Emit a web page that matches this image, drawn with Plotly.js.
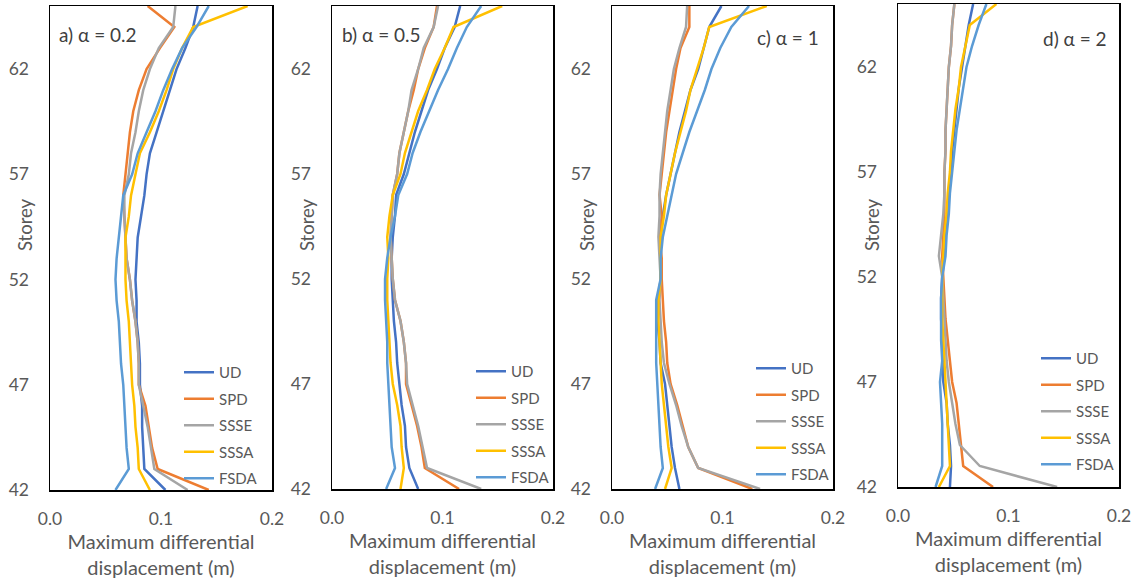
<!DOCTYPE html>
<html>
<head>
<meta charset="utf-8">
<script src="https://cdn.plot.ly/plotly-3.0.1.min.js"></script>
<style>html,body{margin:0;padding:0;background:#fff;}#chart{width:1136px;height:581px;}</style>
</head>
<body>
<div id="chart"></div>
<script>
// Storey levels (y values)
const storeys = [42,43,44,45,46,47,48,49,50,51,52,53,54,55,56,57,58,59,60,61,62,63,64,65];
const seriesNames = ["UD","SPD","SSSE","SSSA","FSDA"];
const panelLabels = ["a) α = 0.2","b) α = 0.5","c) α = 1","d) α = 2"];
const xTickVals = [0, 0.1, 0.2];
const yTickVals = [42, 47, 52, 57, 62];

// Panel a) alpha = 0.2
const a_UD   = [0.104,0.085,0.084,0.083,0.083,0.081,0.081,0.080,0.078,0.078,0.077,0.078,0.079,0.082,0.085,0.087,0.090,0.096,0.102,0.108,0.114,0.122,0.129,0.133];
const a_SPD  = [0.143,0.097,0.092,0.089,0.086,0.080,0.080,0.079,0.077,0.074,0.072,0.069,0.068,0.067,0.066,0.068,0.070,0.072,0.075,0.080,0.087,0.099,0.112,0.088];
const a_SSSE = [0.124,0.094,0.091,0.088,0.084,0.080,0.080,0.079,0.077,0.074,0.072,0.069,0.068,0.067,0.067,0.071,0.073,0.077,0.080,0.084,0.090,0.098,0.111,0.113];
const a_SSSA = [0.090,0.080,0.079,0.077,0.076,0.074,0.073,0.072,0.071,0.069,0.068,0.068,0.068,0.071,0.073,0.077,0.081,0.090,0.098,0.105,0.111,0.119,0.129,0.178];
const a_FSDA = [0.059,0.071,0.069,0.068,0.067,0.066,0.064,0.063,0.062,0.060,0.059,0.060,0.062,0.064,0.066,0.074,0.079,0.087,0.095,0.102,0.110,0.119,0.132,0.143];

// Panel b) alpha = 0.5
const b_UD   = [0.078,0.070,0.067,0.066,0.063,0.061,0.059,0.058,0.056,0.055,0.054,0.054,0.055,0.057,0.058,0.065,0.070,0.075,0.081,0.087,0.095,0.102,0.111,0.116];
const b_SPD  = [0.115,0.084,0.081,0.077,0.072,0.067,0.067,0.065,0.062,0.057,0.055,0.054,0.053,0.054,0.055,0.059,0.061,0.065,0.069,0.074,0.078,0.084,0.092,0.095];
const b_SSSE = [0.135,0.086,0.082,0.078,0.073,0.068,0.067,0.065,0.062,0.057,0.055,0.054,0.053,0.054,0.055,0.059,0.061,0.065,0.069,0.072,0.078,0.083,0.092,0.096];
const b_SSSA = [0.062,0.065,0.063,0.062,0.059,0.055,0.053,0.052,0.051,0.050,0.050,0.051,0.050,0.052,0.055,0.062,0.066,0.072,0.078,0.086,0.093,0.102,0.110,0.154];
const b_FSDA = [0.049,0.057,0.054,0.053,0.052,0.051,0.050,0.050,0.049,0.048,0.048,0.050,0.053,0.057,0.060,0.068,0.073,0.080,0.088,0.096,0.105,0.113,0.122,0.135];

// Panel c) alpha = 1
const c_UD   = [0.061,0.057,0.054,0.052,0.050,0.048,0.044,0.043,0.041,0.042,0.044,0.044,0.044,0.046,0.049,0.053,0.057,0.061,0.066,0.071,0.078,0.083,0.088,0.099];
const c_SPD  = [0.127,0.078,0.069,0.064,0.059,0.053,0.050,0.049,0.047,0.046,0.045,0.045,0.043,0.045,0.043,0.045,0.047,0.049,0.052,0.055,0.058,0.062,0.070,0.070];
const c_SSSE = [0.134,0.078,0.069,0.063,0.058,0.052,0.047,0.045,0.044,0.043,0.044,0.043,0.042,0.043,0.043,0.044,0.046,0.048,0.050,0.053,0.056,0.061,0.067,0.068];
const c_SSSA = [0.048,0.054,0.051,0.049,0.047,0.045,0.044,0.043,0.042,0.042,0.044,0.044,0.044,0.047,0.049,0.053,0.057,0.062,0.067,0.071,0.077,0.083,0.088,0.140];
const c_FSDA = [0.039,0.046,0.044,0.043,0.042,0.041,0.040,0.040,0.040,0.040,0.044,0.044,0.046,0.050,0.054,0.058,0.064,0.070,0.077,0.084,0.090,0.098,0.108,0.124];

// Panel d) alpha = 2
const d_UD   = [0.047,0.048,0.047,0.045,0.044,0.041,0.041,0.040,0.039,0.039,0.040,0.042,0.043,0.045,0.046,0.048,0.049,0.051,0.053,0.055,0.058,0.061,0.064,0.068];
const d_SPD  = [0.086,0.059,0.057,0.055,0.053,0.049,0.047,0.045,0.043,0.042,0.041,0.040,0.041,0.042,0.042,0.042,0.043,0.043,0.044,0.045,0.046,0.048,0.049,0.051];
const d_SSSE = [0.144,0.074,0.056,0.052,0.049,0.046,0.044,0.043,0.042,0.041,0.040,0.037,0.039,0.041,0.042,0.042,0.043,0.043,0.044,0.045,0.046,0.048,0.049,0.051];
const d_SSSA = [0.037,0.047,0.046,0.045,0.044,0.043,0.042,0.041,0.040,0.040,0.040,0.041,0.042,0.044,0.045,0.047,0.048,0.050,0.052,0.055,0.057,0.061,0.065,0.089];
const d_FSDA = [0.034,0.040,0.040,0.040,0.039,0.038,0.040,0.039,0.039,0.039,0.040,0.043,0.044,0.046,0.047,0.049,0.051,0.053,0.056,0.059,0.062,0.067,0.073,0.080];

const panelsData = [
  [a_UD,a_SPD,a_SSSE,a_SSSA,a_FSDA],
  [b_UD,b_SPD,b_SSSE,b_SSSA,b_FSDA],
  [c_UD,c_SPD,c_SSSE,c_SSSA,c_FSDA],
  [d_UD,d_SPD,d_SSSE,d_SSSA,d_FSDA]
];

const colors = ["#4472C4","#ED7D31","#A5A5A5","#FFC000","#5B9BD5"];
const W = 1136, H = 581;
const FONT = "Lato, 'Open Sans', sans-serif";
const TXT = "#595959";

// plot-area pixel boxes [left,right,top,bottom]
const boxes = [[50,272,6,490],[332,553,6,489],[612,833,6,489],[898,1119,4,487]];
const legendPos = [[179,368],[471,367],[751,364],[1036,354]];
const labelPos = [[57,35,"left"],[340,35,"left"],[821,37,"right"],[1109,38,"right"]];
const storeyX = [25,307,587,872];

const traces = [];
const layout = {
  width: W, height: H,
  margin: {l:0, r:0, t:0, b:0},
  paper_bgcolor: "#ffffff", plot_bgcolor: "#ffffff",
  font: {family: FONT, color: TXT, size: 17},
  showlegend: true,
  annotations: []
};

panelsData.forEach((panel, p) => {
  const sfx = p === 0 ? "" : String(p + 1);
  const legName = p === 0 ? "legend" : "legend" + (p + 1);
  panel.forEach((vals, i) => {
    traces.push({
      type: "scatter", mode: "lines",
      x: vals, y: storeys,
      name: seriesNames[i],
      line: {color: colors[i], width: 2.5},
      xaxis: "x" + sfx, yaxis: "y" + sfx,
      legend: legName,
      legendgroup: "p" + p + "s" + i,
      hoverinfo: "x+y+name"
    });
  });
  const [l, r, t, b] = boxes[p];
  layout["xaxis" + sfx] = {
    domain: [l / W, r / W], anchor: "y" + sfx,
    range: [0, 0.2], tickvals: xTickVals, tickformat: ".1f",
    showgrid: false, zeroline: false, showline: true, mirror: true,
    linecolor: "#000000", linewidth: 1.5, ticks: "",
    ticklabelstandoff: 12,
    tickfont: {size: 17.5, color: TXT, family: FONT},
    title: {text: "Maximum differential<br>displacement (m)", font: {size: 20, color: TXT, family: FONT}, standoff: 2}
  };
  layout["yaxis" + sfx] = {
    domain: [1 - b / H, 1 - t / H], anchor: "x" + sfx,
    range: [42, 65], tickvals: yTickVals,
    showgrid: false, zeroline: false, showline: true, mirror: true,
    linecolor: "#000000", linewidth: 1.5, ticks: "",
    ticklabelstandoff: 16,
    tickfont: {size: 17.5, color: TXT, family: FONT}
  };
  const [lx, ly] = legendPos[p];
  layout[legName] = {
    x: lx / W, y: 1 - (ly - 12) / H, xanchor: "left", yanchor: "top",
    bgcolor: "rgba(0,0,0,0)", borderwidth: 0,
    font: {size: 15, color: TXT, family: FONT},
    tracegroupgap: 4, itemwidth: 30
  };
  layout.annotations.push({
    xref: "paper", yref: "paper",
    x: labelPos[p][0] / W, y: 1 - labelPos[p][1] / H,
    xanchor: labelPos[p][2], yanchor: "middle",
    text: panelLabels[p], showarrow: false,
    font: {size: 19, color: "#404040", family: FONT}
  });
  layout.annotations.push({
    xref: "paper", yref: "paper",
    x: storeyX[p] / W, y: 1 - 225 / H,
    xanchor: "center", yanchor: "middle", textangle: -90,
    text: "Storey", showarrow: false,
    font: {size: 18.5, color: TXT, family: FONT}
  });
});

Plotly.newPlot("chart", traces, layout, {displayModeBar: false, staticPlot: true});
</script>
</body>
</html>
